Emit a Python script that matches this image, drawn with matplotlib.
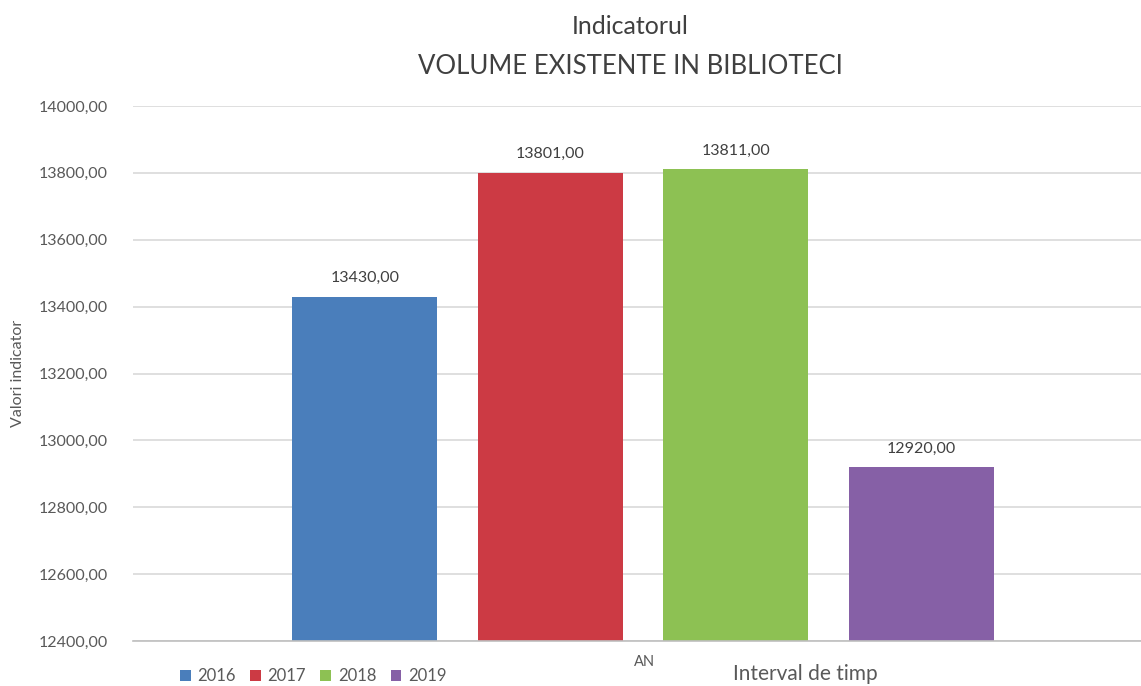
import matplotlib.pyplot as plt
from matplotlib.patches import Patch
from matplotlib.ticker import FuncFormatter

# Volume in library collections per year
years = ["2016", "2017", "2018", "2019"]
volumes = [13430, 13801, 13811, 12920]
colors = ["#4A7EBB", "#CC3A44", "#8DC153", "#8660A6"]
y_ticks = [12400, 12600, 12800, 13000, 13200, 13400, 13600, 13800, 14000]

plt.rcParams["font.family"] = ["Lato", "DejaVu Sans"]
text_gray = "#595959"


def ro_format(v, _pos=None):
    # Romanian style: comma as decimal separator
    return f"{v:.2f}".replace(".", ",")


fig = plt.figure(figsize=(11.41, 6.86), dpi=100)
ax = fig.add_axes([133 / 1141, 1 - 641 / 686, 1 - 133 / 1141, (641 - 106) / 686])

bar_w = 0.144
step = 0.184
for i, (yr, val, col) in enumerate(zip(years, volumes, colors)):
    x = (i - 1.5) * step
    ax.bar(x, val - y_ticks[0], bottom=y_ticks[0], width=bar_w, color=col, zorder=3)
    ax.text(x, val + 35, ro_format(val), ha="center", va="bottom", fontsize=11.5, color="#404040")

ax.set_xlim(-0.506, 0.494)
ax.set_ylim(y_ticks[0], y_ticks[-1])
ax.set_yticks(y_ticks)
ax.yaxis.set_major_formatter(FuncFormatter(ro_format))
ax.tick_params(axis="y", length=0, pad=18, labelsize=11.5, labelcolor=text_gray)
ax.set_xticks([])
ax.grid(axis="y", color="#D9D9D9", linewidth=1.2, zorder=0)
for side in ["top", "right", "left"]:
    ax.spines[side].set_visible(False)
ax.spines["bottom"].set_color("#BFBFBF")
ax.spines["bottom"].set_linewidth(1.2)
ax.spines["bottom"].set_zorder(4)

ax.set_ylabel("Valori indicator", fontsize=11.5, color=text_gray, labelpad=10)

fig.text(645 / 1141, 1 - 662 / 686, "AN", ha="center", va="center", fontsize=10.5, color=text_gray)
fig.text(805 / 1141, 1 - 674 / 686, "Interval de timp", ha="center", va="center", fontsize=15, color=text_gray)

fig.text(630 / 1141, 1 - 27 / 686, "Indicatorul", ha="center", va="center", fontsize=18, color="#404040")
fig.text(630 / 1141, 1 - 66 / 686, "VOLUME EXISTENTE IN BIBLIOTECI", ha="center", va="center",
         fontsize=18.5, color="#404040")

handles = [Patch(facecolor=c, edgecolor="none") for c in colors]
fig.legend(handles, years, loc="center left", bbox_to_anchor=(165 / 1141, 1 - 676 / 686), ncol=4,
           frameon=False, fontsize=12, labelcolor=text_gray, handlelength=0.65, handleheight=0.65,
           handletextpad=0.4, columnspacing=0.85)

fig.savefig("out.png", dpi=100)
